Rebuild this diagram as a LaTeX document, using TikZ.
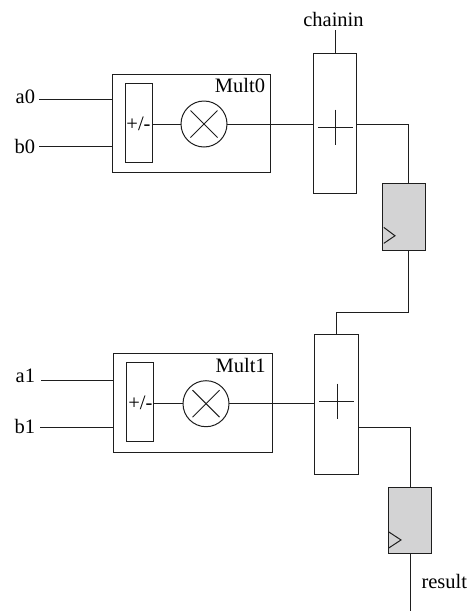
\documentclass[tikz,border=0pt]{standalone}
\usepackage{fontspec}
\setmainfont{Liberation Serif}
\usetikzlibrary{calc}
\definecolor{regfill}{RGB}{211,211,212}
\definecolor{wire}{RGB}{30,30,30}
\begin{document}
\begin{tikzpicture}[x=1pt,y=-1pt,
  every node/.style={font=\fontsize{20.5}{22}\selectfont, text=black},
  wire/.style={draw=wire, line width=1pt},
  box/.style={draw=wire, line width=1pt, rectangle, inner sep=0pt, outer sep=0pt},
  reg/.style={box, fill=regfill},
  mulc/.style={draw=wire, line width=1pt, circle, minimum size=46pt, inner sep=0pt, outer sep=0pt},
  lbl/.style={inner sep=0pt, outer sep=0pt}]
\useasboundingbox (0,0) rectangle (468,611);

% ---------- stage 0 ----------
\node[box, minimum width=158pt, minimum height=98pt] (mult0) at (191,123) {};
\node[lbl, anchor=base east] (m0lbl) at (265,92.3) {Mult0};
\node[box, minimum width=27pt, minimum height=79pt] (pm0) at (138.5,122.5) {};
\node[lbl] (pm0t) at (138.5,123.5) {+/-};
\node[mulc] (x0) at (204,124) {};
\draw[wire] ($(x0)+(-13.5,-13.5)$) -- ($(x0)+(13.5,13.5)$);
\draw[wire] ($(x0)+(-13.5,13.5)$) -- ($(x0)+(13.5,-13.5)$);
\node[box, minimum width=43pt, minimum height=140pt] (add0) at (334.5,123) {};
\draw[wire] (318,127) -- (353,127);
\draw[wire] (335.5,109.5) -- (335.5,144.5);
\node[reg, minimum width=43.4pt, minimum height=66.7pt] (reg0) at (404,216.7) {};
\draw[wire] ([shift={(1.5pt,22.7pt)}]reg0.south west) -- ([shift={(12.7pt,14.3pt)}]reg0.south west) -- ([shift={(1.5pt,6.7pt)}]reg0.south west);

\node[lbl, anchor=base east] (a0) at (35,103) {a0};
\node[lbl, anchor=base east] (b0) at (35,153) {b0};
\coordinate (a0s) at (39,99);
\coordinate (b0s) at (39,146);
\draw[wire] (a0s) -- (mult0.west |- a0s);
\draw[wire] (b0s) -- (mult0.west |- b0s);
\draw[wire] (pm0.east |- x0) -- (x0.west);
\draw[wire] (x0.east) -- (add0.west |- x0);

\node[lbl, anchor=base] (chainin) at (333.5,26) {chainin};
\coordinate (chs) at (335,30);
\draw[wire] (chs) -- (chs |- add0.north);

\coordinate (o0) at (408.3,124);
\draw[wire] (add0.east |- o0) -- (o0) -- (o0 |- reg0.north);

% ---------- stage 1 ----------
\node[box, minimum width=158.7pt, minimum height=98.6pt] (mult1) at (193.3,403) {};
\node[lbl, anchor=base east] (m1lbl) at (265.7,372.3) {Mult1};
\node[box, minimum width=27.3pt, minimum height=78.6pt] (pm1) at (140.3,402) {};
\node[lbl] (pm1t) at (140.3,403) {+/-};
\node[mulc] (x1) at (206,403.7) {};
\draw[wire] ($(x1)+(-13.5,-13.5)$) -- ($(x1)+(13.5,13.5)$);
\draw[wire] ($(x1)+(-13.5,13.5)$) -- ($(x1)+(13.5,-13.5)$);
\node[box, minimum width=43.7pt, minimum height=140pt] (add1) at (336.2,404) {};
\draw[wire] (319.3,401) -- (354.3,401);
\draw[wire] (337,383.5) -- (337,418.5);
\node[reg, minimum width=43pt, minimum height=66.3pt] (reg1) at (409.8,520.8) {};
\draw[wire] ([shift={(0.5pt,22pt)}]reg1.south west) -- ([shift={(12.7pt,14pt)}]reg1.south west) -- ([shift={(0.5pt,6pt)}]reg1.south west);

\coordinate (j0) at (336,312.3);
\coordinate (r0o) at (408.3,250);
\draw[wire] (r0o |- reg0.south) -- (r0o |- j0) -- (j0) -- (j0 |- add1.north);

\node[lbl, anchor=base east] (a1) at (35,382.3) {a1};
\node[lbl, anchor=base east] (b1) at (35,433) {b1};
\coordinate (a1s) at (41,380.3);
\coordinate (b1s) at (40,427.7);
\draw[wire] (a1s) -- (mult1.west |- a1s);
\draw[wire] (b1s) -- (mult1.west |- b1s);
\draw[wire] (pm1.east |- x1) -- (x1.west);
\draw[wire] (x1.east) -- (add1.west |- x1);

\coordinate (o1) at (410.3,427.7);
\draw[wire] (add1.east |- o1) -- (o1) -- (o1 |- reg1.north);
\coordinate (rend) at (410.3,611);
\draw[wire] (rend |- reg1.south) -- (rend);
\node[lbl, anchor=base west] (result) at (421.5,588.3) {result};
\end{tikzpicture}
\end{document}
